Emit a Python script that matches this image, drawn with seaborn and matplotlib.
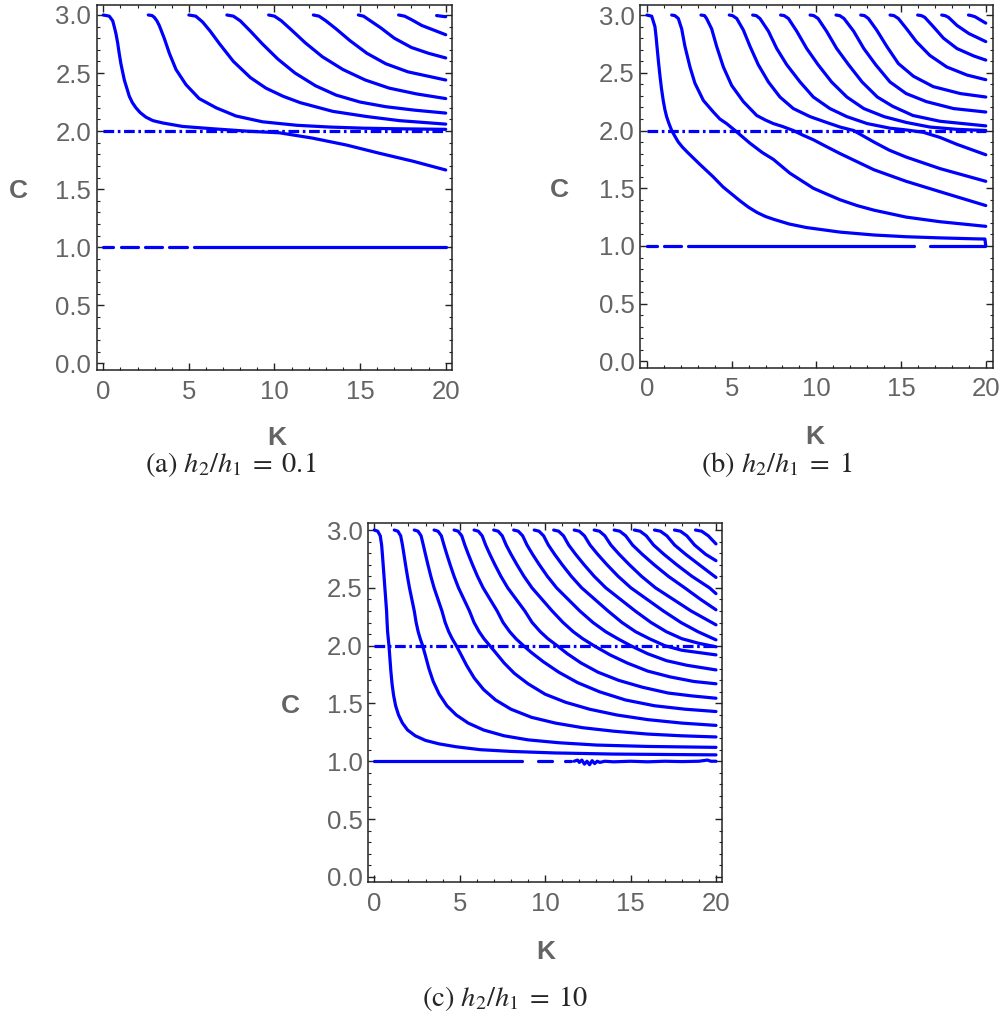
import numpy as np
import pandas as pd
import matplotlib
matplotlib.use("Agg")
import matplotlib.pyplot as plt
import seaborn as sns

# ---------------- data: panel (a) h2/h1 = 0.1 ----------------
A_K = [
    [0, 0.35, 0.55, 0.64, 0.74, 0.84, 0.93, 1.03, 1.23, 1.52, 1.7, 1.91, 2.15, 2.49, 2.9, 3.47, 4.63, 6.39, 8.33, 10.3, 12.2, 14.2, 16.1, 18.1, 20],
    [2.63, 2.85, 2.98, 3.13, 3.27, 3.56, 3.86, 4.25, 4.83, 5.6, 6.6, 7.75, 9.3, 11.3, 13.2, 15.2, 17.1, 20],
    [5.0, 5.4, 5.8, 6.25, 6.8, 7.6, 8.6, 9.5, 10.5, 11.5, 13.4, 15.4, 17.3, 20],
    [7.22, 7.6, 8.0, 8.6, 9.3, 10.2, 11.2, 12.4, 13.6, 15.0, 16.5, 18.2, 20],
    [9.66, 10.0, 10.4, 11.0, 11.8, 12.8, 14.0, 15.3, 16.7, 18.3, 20],
    [12.27, 12.6, 13.0, 13.6, 14.4, 15.4, 16.5, 17.8, 20],
    [14.9, 15.2, 15.6, 16.2, 17.0, 18.0, 19.0, 20],
    [17.25, 17.6, 18.0, 18.6, 19.3, 20],
    [19.47, 20],
]
A_C = [
    [3.0, 2.99, 2.95, 2.90, 2.84, 2.76, 2.67, 2.58, 2.44, 2.30, 2.245, 2.20, 2.16, 2.12, 2.09, 2.07, 2.04, 2.02, 2.0, 1.985, 1.94, 1.88, 1.81, 1.74, 1.665],
    [3.0, 2.995, 2.98, 2.95, 2.91, 2.80, 2.67, 2.53, 2.40, 2.28, 2.20, 2.13, 2.08, 2.05, 2.035, 2.025, 2.02, 2.015],
    [3.0, 2.99, 2.94, 2.86, 2.75, 2.60, 2.46, 2.37, 2.30, 2.245, 2.17, 2.125, 2.09, 2.06],
    [3.0, 2.99, 2.95, 2.86, 2.75, 2.62, 2.50, 2.39, 2.31, 2.25, 2.21, 2.18, 2.155],
    [3.0, 2.99, 2.95, 2.87, 2.76, 2.64, 2.53, 2.44, 2.37, 2.32, 2.28],
    [3.0, 2.99, 2.95, 2.88, 2.78, 2.67, 2.58, 2.51, 2.44],
    [3.0, 2.99, 2.95, 2.89, 2.80, 2.72, 2.67, 2.63],
    [3.0, 2.99, 2.96, 2.91, 2.87, 2.83],
    [2.995, 2.985],
]
A_ONE_K = [[0, 0.55], [1.03, 2.0], [2.45, 3.43], [3.86, 4.87], [5.32, 20]]
A_ONE_C = [[1.0, 1.0]] * 5

# ---------------- data: panel (b) h2/h1 = 1 ----------------
B_K = [
    [0, 0.28, 0.47, 0.54, 0.61, 0.69, 0.77, 0.86, 0.96, 1.06, 1.16, 1.3, 1.46, 1.65, 1.85, 2.1, 2.4, 2.75, 3.1, 3.5, 3.9, 4.5, 5.0, 5.5, 6.0, 6.5, 7.0, 7.5, 8.4, 9.4, 10.4, 11.4, 13.4, 15.3, 17.3, 19.3, 19.95, 20.0],
    [1.46, 1.65, 1.85, 2.05, 2.24, 2.54, 2.83, 3.33, 3.92, 4.3, 4.7, 5.2, 5.6, 6.08, 6.8, 7.46, 8.44, 9.82, 10.6, 11.4, 12.4, 13.4, 15.3, 17.3, 20],
    [3.19, 3.4, 3.52, 3.82, 4.11, 4.51, 5.0, 5.69, 6.48, 7.0, 7.46, 8.0, 8.64, 9.2, 9.82, 10.6, 11.4, 12.4, 13.4, 15.3, 17.3, 20],
    [4.86, 5.05, 5.3, 5.69, 6.08, 6.57, 7.17, 7.85, 8.64, 9.63, 10.6, 11.4, 12.2, 12.8, 13.4, 14.3, 15.3, 17.3, 20],
    [6.24, 6.45, 6.67, 7.17, 7.66, 8.25, 9.04, 9.82, 10.8, 11.8, 13.0, 14.35, 15.3, 16.3, 17.3, 18.3, 20],
    [7.89, 8.1, 8.35, 8.84, 9.43, 10.1, 10.9, 11.8, 12.8, 14.0, 15.3, 16.7, 18.3, 20],
    [9.63, 9.85, 10.1, 10.6, 11.2, 11.9, 12.7, 13.6, 14.5, 15.7, 17.3, 20],
    [11.16, 11.38, 11.63, 12.2, 12.8, 13.5, 14.35, 15.3, 16.5, 18.1, 20],
    [12.62, 12.84, 13.07, 13.56, 14.15, 14.84, 15.73, 16.9, 18.5, 20],
    [14.35, 14.58, 14.84, 15.33, 15.9, 16.7, 17.7, 18.9, 20],
    [15.98, 16.2, 16.4, 16.9, 17.5, 18.3, 19.3, 20],
    [17.4, 17.6, 17.8, 18.3, 19.0, 20],
    [18.98, 19.15, 19.37, 20],
]
B_C = [
    [3.0, 2.99, 2.90, 2.81, 2.70, 2.58, 2.47, 2.36, 2.26, 2.18, 2.12, 2.06, 2.0, 1.95, 1.90, 1.855, 1.81, 1.76, 1.71, 1.655, 1.60, 1.51, 1.45, 1.39, 1.335, 1.29, 1.255, 1.23, 1.19, 1.16, 1.14, 1.12, 1.095, 1.08, 1.07, 1.062, 1.06, 1.0],
    [3.0, 2.995, 2.97, 2.88, 2.73, 2.55, 2.41, 2.26, 2.16, 2.10, 2.06, 2.0, 1.95, 1.89, 1.81, 1.75, 1.63, 1.50, 1.45, 1.40, 1.35, 1.31, 1.25, 1.21, 1.17],
    [3.0, 2.995, 2.97, 2.88, 2.73, 2.55, 2.39, 2.25, 2.13, 2.09, 2.06, 2.035, 2.0, 1.96, 1.92, 1.86, 1.80, 1.73, 1.66, 1.56, 1.47, 1.35],
    [3.0, 2.995, 2.97, 2.87, 2.73, 2.57, 2.42, 2.29, 2.19, 2.12, 2.07, 2.03, 2.0, 1.95, 1.90, 1.83, 1.77, 1.67, 1.56],
    [3.0, 2.995, 2.97, 2.86, 2.71, 2.57, 2.42, 2.29, 2.19, 2.12, 2.06, 2.02, 2.005, 1.985, 1.94, 1.88, 1.79],
    [3.0, 2.995, 2.97, 2.86, 2.71, 2.57, 2.42, 2.29, 2.19, 2.12, 2.07, 2.03, 2.01, 2.0],
    [3.0, 2.995, 2.97, 2.86, 2.71, 2.57, 2.42, 2.29, 2.21, 2.13, 2.08, 2.04],
    [3.0, 2.995, 2.97, 2.86, 2.71, 2.57, 2.42, 2.32, 2.25, 2.19, 2.16],
    [3.0, 2.995, 2.97, 2.87, 2.73, 2.58, 2.47, 2.38, 2.32, 2.29],
    [3.0, 2.995, 2.97, 2.88, 2.77, 2.65, 2.55, 2.48, 2.44],
    [3.0, 2.995, 2.98, 2.90, 2.80, 2.71, 2.645, 2.61],
    [3.0, 2.995, 2.98, 2.91, 2.84, 2.77],
    [3.0, 2.995, 2.985, 2.93],
]
B_ONE_K = [[0, 0.57], [1.0, 1.99], [2.44, 15.77], [16.7, 19.95]]
B_ONE_C = [[1.0, 1.0]] * 4

# ---------------- data: panel (c) h2/h1 = 10 ----------------
LV = [3.0, 2.99, 2.95, 2.87, 2.79, 2.70, 2.60, 2.50, 2.40, 2.30, 2.20, 2.12, 2.06, 2.0]
C_K = [
    [0, 0.2, 0.35, 0.43, 0.475, 0.52, 0.57, 0.62, 0.67, 0.72, 0.75, 0.78, 0.82, 0.86,
     0.91, 0.97, 1.04, 1.13, 1.25, 1.42, 1.65, 1.95, 2.4, 3.0, 3.8, 4.8, 6.2, 8.0, 10.5, 14.0, 20],
    [1.17, 1.38, 1.545, 1.65, 1.735, 1.83, 1.94, 2.06, 2.20, 2.34, 2.45, 2.57, 2.69, 2.83,
     3.0, 3.2, 3.45, 3.8, 4.25, 4.8, 5.5, 6.4, 7.6, 9.0, 10.8, 13.0, 16.0, 20],
    [2.34, 2.56, 2.74, 2.87, 2.995, 3.14, 3.31, 3.50, 3.73, 3.96, 4.15, 4.36, 4.56, 4.80,
     5.05, 5.4, 5.85, 6.4, 7.1, 8.0, 9.2, 10.6, 12.2, 14.0, 16.0, 18.0, 20],
    [3.5, 3.73, 3.925, 4.08, 4.245, 4.44, 4.67, 4.93, 5.25, 5.57, 5.84, 6.14, 6.42, 6.76,
     7.1, 7.6, 8.2, 9.0, 10.0, 11.2, 12.6, 14.2, 16.0, 18.0, 20],
    [4.67, 4.91, 5.12, 5.30, 5.505, 5.75, 6.04, 6.37, 6.78, 7.19, 7.54, 7.93, 8.29, 8.73,
     9.2, 9.9, 10.8, 11.9, 13.2, 14.7, 16.4, 18.2, 20],
    [5.84, 6.09, 6.315, 6.52, 6.765, 7.06, 7.41, 7.81, 8.31, 8.81, 9.24, 9.72, 10.16, 10.70,
     11.3, 12.1, 13.1, 14.3, 15.7, 17.2, 18.6, 20],
    [6.99, 7.25, 7.49, 7.72, 8.005, 8.35, 8.76, 9.23, 9.82, 10.41, 11.05, 11.65, 12.2, 12.85,
     13.8, 14.8, 16.0, 17.3, 18.7, 20],
    [8.16, 8.43, 8.685, 8.94, 9.265, 9.66, 10.13, 10.67, 11.35, 12.03, 12.8, 13.55, 14.25, 15.0,
     16.0, 17.1, 18.3, 20],
    [9.36, 9.64, 9.91, 10.19, 10.555, 11.0, 11.53, 12.14, 12.91, 13.68, 14.5, 15.3, 16.1, 17.0,
     18.0, 20],
    [10.5, 10.79, 11.075, 11.38, 11.785, 12.28, 12.87, 13.55, 14.41, 15.27, 16.2, 17.1, 18.0, 19.0, 20],
    [11.7, 12.0, 12.3, 12.63, 13.075, 13.62, 14.27, 15.02, 15.97, 16.92, 17.95, 18.95, 20],
    [12.87, 13.18, 13.495, 13.85, 14.335, 14.93, 15.64, 16.46, 17.50, 18.54, 20],
    [14.04, 14.37, 14.715, 15.12, 15.685, 16.38, 17.21, 18.17, 19.1, 20],
    [15.22, 15.56, 15.92, 16.35, 16.955, 17.70, 18.59, 19.62, 20],
    [16.4, 16.75, 17.125, 17.58, 18.225, 19.02, 20],
    [17.57, 17.92, 18.295, 18.75, 19.395, 20],
    [18.8, 19.16, 19.55, 20],
]
C_C = [
    LV + [1.90, 1.78, 1.67, 1.57, 1.48, 1.40, 1.33, 1.27, 1.22, 1.18, 1.15, 1.125, 1.10, 1.085, 1.072, 1.062, 1.055],
    LV + [1.91, 1.80, 1.69, 1.58, 1.48, 1.40, 1.33, 1.27, 1.22, 1.185, 1.16, 1.14, 1.128, 1.12],
    LV + [1.93, 1.83, 1.72, 1.62, 1.53, 1.45, 1.38, 1.33, 1.29, 1.26, 1.235, 1.22, 1.21],
    LV + [1.94, 1.85, 1.76, 1.67, 1.58, 1.51, 1.45, 1.40, 1.36, 1.33, 1.31],
    LV + [1.94, 1.86, 1.77, 1.68, 1.60, 1.53, 1.48, 1.45, 1.43],
    LV + [1.93, 1.85, 1.77, 1.70, 1.64, 1.59, 1.565, 1.545],
    LV + [1.92, 1.85, 1.78, 1.73, 1.69, 1.67],
    LV + [1.93, 1.87, 1.83, 1.79],
    LV + [1.96, 1.92],
    [3.0, 2.99, 2.95, 2.87, 2.79, 2.70, 2.60, 2.50, 2.40, 2.30, 2.20, 2.12, 2.06, 2.02, 1.99],
    [3.0, 2.99, 2.95, 2.87, 2.79, 2.70, 2.60, 2.50, 2.40, 2.30, 2.20, 2.12, 2.05],
    [3.0, 2.99, 2.95, 2.87, 2.79, 2.70, 2.60, 2.50, 2.40, 2.30, 2.18],
    [3.0, 2.99, 2.95, 2.87, 2.79, 2.70, 2.60, 2.50, 2.40, 2.31],
    [3.0, 2.99, 2.95, 2.87, 2.79, 2.70, 2.60, 2.50, 2.45],
    [3.0, 2.99, 2.95, 2.87, 2.79, 2.70, 2.59],
    [3.0, 2.99, 2.95, 2.87, 2.79, 2.735],
    [3.0, 2.99, 2.95, 2.88],
]
C_ONE_K = [[0, 8.65], [9.59, 10.41], [11.19, 11.54],
           [11.7, 11.9, 12.0, 12.15, 12.3, 12.45, 12.6, 12.75, 12.9, 13.05, 13.2, 13.5, 14.0, 15.0, 16.0, 17.0, 18.0, 19.0, 19.5, 19.7, 20]]
C_ONE_C = [[1.0, 1.0], [1.0, 1.0], [1.0, 1.0],
           [1.0, 1.01, 0.99, 1.01, 0.975, 1.0, 0.97, 1.005, 0.98, 1.0, 0.99, 1.0, 0.995, 1.0, 0.995, 1.0, 0.997, 1.0, 1.01, 1.0, 1.0]]

ASYM_K = [0, 20]
ASYM_C = [2.0, 2.0]

X_MAJOR = [0, 5, 10, 15, 20]
Y_MAJOR = [0.0, 0.5, 1.0, 1.5, 2.0, 2.5, 3.0]
CAPTIONS = [r"(a) $h_2/h_1\;=\;0.1$", r"(b) $h_2/h_1\;=\;1$", r"(c) $h_2/h_1\;=\;10$"]

# ---------------- style ----------------
sns.set_theme(style="white")
plt.rcParams['font.family'] = ['Liberation Sans', 'DejaVu Sans']
plt.rcParams['lines.scale_dashes'] = False
plt.rcParams['mathtext.fontset'] = 'stix'

BLUE = '#0000ff'
LW = 2.3
GREY = '#646464'

fig = plt.figure(figsize=(10.06, 10.21), dpi=100)

panels = [
    dict(rect=[0.0961, 0.6376, 0.3529, 0.3575], xlim=(-0.385, 20.35), ylim=(-0.058, 3.086),
         K=A_K, C=A_C, oneK=A_ONE_K, oneC=A_ONE_C, clab=(-0.22, 0.49), klab=(0.507, -0.185)),
    dict(rect=[0.6362, 0.6399, 0.3506, 0.3552], xlim=(-0.41, 20.41), ylim=(-0.054, 3.087),
         K=B_K, C=B_C, oneK=B_ONE_K, oneC=B_ONE_C, clab=(-0.23, 0.49), klab=(0.496, -0.19)),
    dict(rect=[0.3661, 0.1361, 0.3519, 0.3519], xlim=(-0.35, 20.37), ylim=(-0.045, 3.063),
         K=C_K, C=C_C, oneK=C_ONE_K, oneC=C_ONE_C, clab=(-0.22, 0.49), klab=(0.5, -0.195)),
]

for p in panels:
    ax = fig.add_axes(p['rect'])
    rows = []
    uid = 0
    for ks, cs in zip(p['K'] + p['oneK'], p['C'] + p['oneC']):
        for k, c in zip(ks, cs):
            rows.append((uid, k, c))
        uid += 1
    df = pd.DataFrame(rows, columns=['unit', 'K', 'C'])
    sns.lineplot(data=df, x='K', y='C', units='unit', estimator=None, sort=False,
                 color=BLUE, lw=LW, ax=ax, legend=False, solid_joinstyle='round')
    ax.plot(ASYM_K, ASYM_C, color=BLUE, lw=LW, linestyle=(0, (7.7, 2.6, 1.9, 2.6)))
    ax.set_xlim(*p['xlim'])
    ax.set_ylim(*p['ylim'])
    ax.set_xticks(X_MAJOR)
    ax.set_xticklabels([str(v) for v in X_MAJOR])
    ax.set_yticks(Y_MAJOR)
    ax.set_yticklabels([f"{v:.1f}" for v in Y_MAJOR])
    ax.set_xticks(np.arange(0, 21, 1), minor=True)
    ax.set_yticks(np.arange(0, 3.01, 0.1), minor=True)
    ax.tick_params(which='both', direction='in', top=True, right=True, bottom=True, left=True,
                   color='#222222', labelcolor=GREY)
    ax.tick_params(which='major', length=5, width=1.0, labelsize=18.5)
    ax.tick_params(which='minor', length=2.5, width=0.8)
    ax.tick_params(axis='x', which='major', pad=7)
    ax.tick_params(axis='y', which='major', pad=4)
    for s in ax.spines.values():
        s.set_color('#222222')
        s.set_linewidth(1.1)
    ax.set_xlabel('K', fontsize=19, fontweight='bold', color=GREY)
    ax.set_ylabel('C', fontsize=19, fontweight='bold', color=GREY, rotation=0, ha='center', va='center')
    ax.yaxis.set_label_coords(*p['clab'])
    ax.xaxis.set_label_coords(*p['klab'])
    ax.xaxis.label.set_va('center')
    ax.set_facecolor('none')

fig.text(0.2296, 0.5446, CAPTIONS[0], ha='center', va='center', fontsize=20.5, family='STIXGeneral')
fig.text(0.7724, 0.5446, CAPTIONS[1], ha='center', va='center', fontsize=20.5, family='STIXGeneral')
fig.text(0.502, 0.0225, CAPTIONS[2], ha='center', va='center', fontsize=20.5, family='STIXGeneral')

fig.savefig('out.png', dpi=100, facecolor='white')
